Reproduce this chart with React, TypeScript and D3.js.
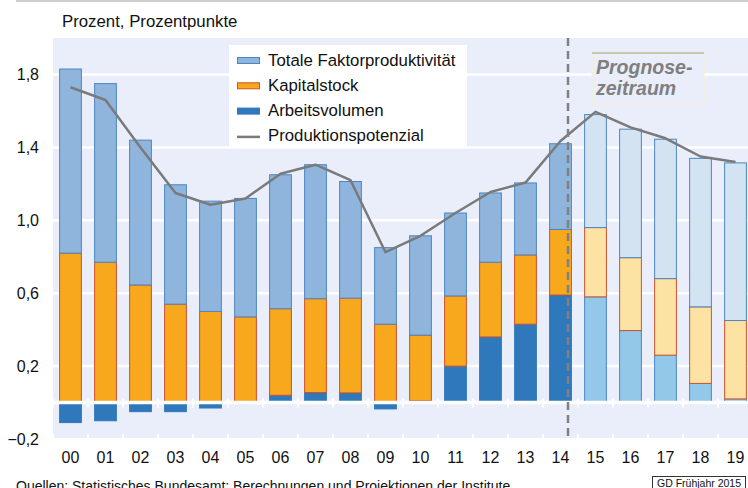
import * as d3 from 'd3';

const years = ['00', '01', '02', '03', '04', '05', '06', '07', '08', '09', '10', '11', '12', '13', '14', '15', '16', '17', '18', '19'];
const arbeitsvolumen = [-0.11, -0.10, -0.05, -0.05, -0.03, -0.005, 0.04, 0.055, 0.053, -0.035, 0.01, 0.20, 0.36, 0.43, 0.59, 0.58, 0.395, 0.26, 0.105, 0.02];
const kapitalstock = [0.82, 0.77, 0.645, 0.54, 0.50, 0.47, 0.475, 0.515, 0.52, 0.43, 0.36, 0.385, 0.41, 0.38, 0.36, 0.38, 0.40, 0.42, 0.42, 0.43];
const tfp = [1.01, 0.98, 0.795, 0.655, 0.605, 0.65, 0.735, 0.735, 0.64, 0.42, 0.545, 0.455, 0.38, 0.395, 0.47, 0.62, 0.705, 0.765, 0.815, 0.865];
const potenzial = [1.73, 1.66, 1.40, 1.15, 1.085, 1.12, 1.255, 1.305, 1.22, 0.825, 0.915, 1.04, 1.155, 1.207, 1.435, 1.595, 1.51, 1.45, 1.35, 1.32];
const yTicks = [-0.2, 0.2, 0.6, 1.0, 1.4, 1.8];
const firstForecast = '15';

const legendItems = ['Totale Faktorproduktivität', 'Kapitalstock', 'Arbeitsvolumen', 'Produktionspotenzial'];

const FONT = '"Liberation Sans", Arial, sans-serif';
const BG = '#eaeefa';

const colors = {
  tfp: { fill: '#8fb5dd', stroke: '#4a86c5', fillF: '#d3e3f2', strokeF: '#4a86c5' },
  kap: { fill: '#f7a81c', stroke: '#d0502a', fillF: '#fce3a4', strokeF: '#d0502a' },
  arb: { fill: '#2f78bb', stroke: '#2f78bb', fillF: '#94c8e8', strokeF: '#4a86c5' },
};

export default function App() {
  const width = 748;
  const height = 488;
  const plot = { left: 53, right: 753, top: 38, bottom: 438 };

  const x = d3.scaleBand<string>().domain(years).range([plot.left, plot.right]).padding(0);
  const y = d3.scaleLinear().domain([-0.2, 1.8]).range([439, 74.5]);
  const barW = x.bandwidth() * 0.65;
  const cx = (yr: string) => (x(yr) as number) + x.bandwidth() / 2;

  const rows = years.map((yr, i) => ({ yr, arb: arbeitsvolumen[i], kap: kapitalstock[i], tfp: tfp[i] }));
  const stack = d3.stack<any>().keys(['arb', 'kap', 'tfp']).offset(d3.stackOffsetDiverging);
  const series = stack(rows);

  const line = d3.line<number>()
    .x((_, i) => cx(years[i]))
    .y(d => y(d));

  const forecastX = (x(firstForecast) as number) - 10;
  const isForecast = (yr: string) => +yr >= +firstForecast;
  const boundaries = d3.range(years.length + 1).map(i => plot.left + i * x.step());

  return (
    <svg width={width} height={height} style={{ position: 'absolute', left: 0, top: 0 }} fontFamily={FONT}>
      <rect width={width} height={height} fill="#fff" />
      <line x1={16} x2={748} y1={1} y2={1} stroke="#bdbdbd" strokeWidth={1.5} />
      <text x={62} y={27} fontSize={16.8} fill="#111">Prozent, Prozentpunkte</text>

      <rect x={plot.left} y={plot.top} width={width - plot.left} height={plot.bottom - plot.top} fill={BG} />

      {yTicks.filter(t => t > 0).map(t => (
        <line key={t} x1={plot.left - 2} x2={width} y1={y(t)} y2={y(t)} stroke="#fff" strokeWidth={2.5} />
      ))}
      {yTicks.map(t => (
        <text key={'l' + t} x={39} y={y(t) + 5.5} textAnchor="end" fontSize={16} fill="#111">
          {d3.format('.1f')(t).replace('.', ',')}
        </text>
      ))}

      {series.map(s => (
        <g key={s.key}>
          {s.map((d, i) => {
            const yr = years[i];
            const c = (colors as any)[s.key];
            const f = isForecast(yr);
            const y0 = y(Math.max(d[0], d[1]));
            const y1 = y(Math.min(d[0], d[1]));
            if (y1 - y0 < 0.3) return null;
            return (
              <rect key={yr} x={cx(yr) - barW / 2 + 0.5} y={y0} width={barW - 1} height={y1 - y0}
                fill={f ? c.fillF : c.fill} stroke={f ? c.strokeF : c.stroke} strokeWidth={1} />
            );
          })}
        </g>
      ))}

      <line x1={plot.left} x2={width} y1={y(0)} y2={y(0)} stroke="#fff" strokeWidth={3.5} />
      {boundaries.map(b => (
        <g key={b}>
          <line x1={b} x2={b} y1={y(0) - 4} y2={y(0) + 5} stroke="#fff" strokeWidth={2} />
          <line x1={b} x2={b} y1={plot.bottom - 4} y2={plot.bottom} stroke="#fff" strokeWidth={2} />
        </g>
      ))}

      <path d={line(potenzial) ?? ''} fill="none" stroke="#7a7a7a" strokeWidth={2.5} strokeLinejoin="round" />

      <line x1={forecastX} x2={forecastX} y1={plot.top} y2={plot.bottom - 2} stroke="#808080" strokeWidth={2.5} strokeDasharray="8,5" />

      <g>
        <rect x={592} y={53} width={112} height={51} fill={BG} stroke="#f3f0c8" strokeWidth={1} />
        <line x1={592} x2={704} y1={53} y2={53} stroke="#a3a27a" strokeWidth={1} />
        <text x={596} y={74} fontSize={19.5} fontWeight="bold" fontStyle="italic" fill="#7f7f7f">Prognose-</text>
        <text x={596} y={95} fontSize={19.5} fontWeight="bold" fontStyle="italic" fill="#7f7f7f">zeitraum</text>
      </g>

      <g>
        <rect x={229} y={45} width={238} height={102} fill="#fff" />
        {legendItems.map((name, i) => {
          const ly = 65.5 + i * 25.3;
          return (
            <g key={name}>
              {i === 3 ? (
                <line x1={237} x2={260} y1={ly - 4.5} y2={ly - 4.5} stroke="#7a7a7a" strokeWidth={2.5} />
              ) : (
                <rect x={237.5} y={ly - 8} width={22} height={6}
                  fill={[colors.tfp, colors.kap, colors.arb][i].fill}
                  stroke={[colors.tfp, colors.kap, colors.arb][i].stroke} strokeWidth={1} />
              )}
              <text x={268} y={ly} fontSize={16.8} fill="#111">{name}</text>
            </g>
          );
        })}
      </g>

      {years.map(yr => (
        <text key={'x' + yr} x={cx(yr)} y={463} textAnchor="middle" fontSize={16} fill="#111">{yr}</text>
      ))}

      <text x={16} y={491} fontSize={14} fill="#111">Quellen: Statistisches Bundesamt; Berechnungen und Projektionen der Institute.</text>
      <rect x={652.5} y={476.5} width={93} height={14} fill="#fff" stroke="#333" strokeWidth={1} />
      <text x={699} y={486.5} textAnchor="middle" fontSize={10.5} fill="#111">GD Frühjahr 2015</text>
    </svg>
  );
}
